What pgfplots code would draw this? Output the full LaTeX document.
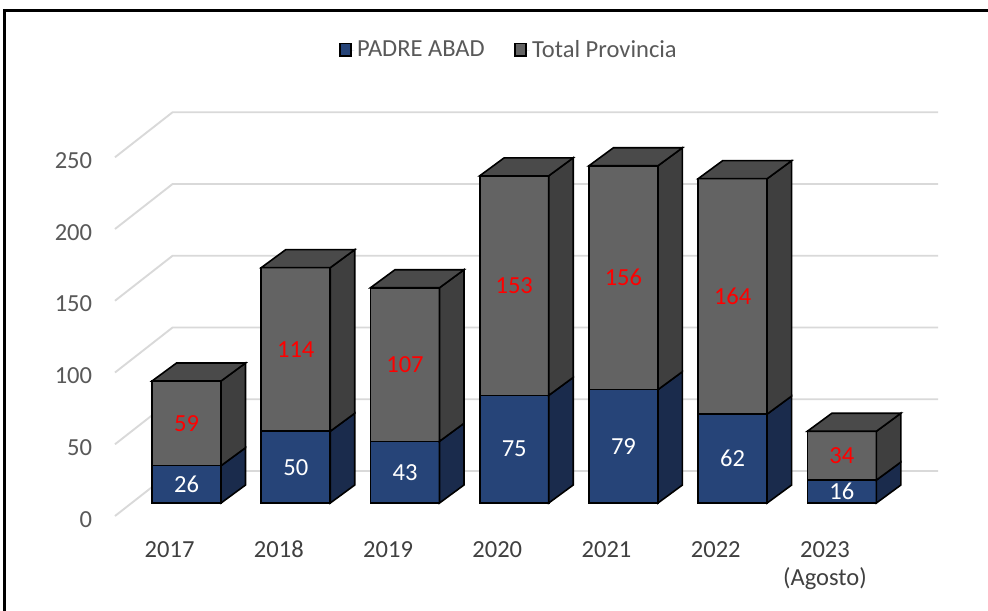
\documentclass[border=0pt]{standalone}
\usepackage{fontspec}
\setmainfont{Carlito}
\usepackage{pgfplots}
\pgfplotsset{compat=1.18}
\definecolor{padre}{HTML}{264478}
\definecolor{padreside}{HTML}{1A2B4C}
\definecolor{totf}{HTML}{636363}
\definecolor{tots}{HTML}{3F3F3F}
\definecolor{tott}{HTML}{4A4A4A}
\definecolor{gridc}{HTML}{D9D9D9}
\definecolor{tickc}{HTML}{595959}
\definecolor{catc}{HTML}{404040}
\newcommand\chfont{\fontsize{18.4}{21}\selectfont}
% #1 category position, #2 PADRE ABAD, #3 Total Provincia
\newcommand\threedbar[3]{%
 \pgfmathsetmacro\xl{#1-0.316}%
 \pgfmathsetmacro\xr{#1+0.316}%
 \pgfmathsetmacro\xlb{#1-0.316+0.224}%
 \pgfmathsetmacro\xrb{#1+0.316+0.224}%
 \pgfmathsetmacro\ya{#2}%
 \pgfmathsetmacro\yb{#2+#3}%
 \pgfmathsetmacro\yzb{12.54}%
 \pgfmathsetmacro\yab{#2+12.54}%
 \pgfmathsetmacro\ybb{#2+#3+12.54}%
 \addplot[forget plot, fill=padre, draw=black, line width=1.2pt] coordinates {(\xl,0) (\xr,0) (\xr,\ya) (\xl,\ya)} -- cycle;
 \addplot[forget plot, fill=totf, draw=black, line width=1.2pt] coordinates {(\xl,\ya) (\xr,\ya) (\xr,\yb) (\xl,\yb)} -- cycle;
 \addplot[forget plot, fill=padreside, draw=black, line width=1.2pt] coordinates {(\xr,0) (\xrb,\yzb) (\xrb,\yab) (\xr,\ya)} -- cycle;
 \addplot[forget plot, fill=tots, draw=black, line width=1.2pt] coordinates {(\xr,\ya) (\xrb,\yab) (\xrb,\ybb) (\xr,\yb)} -- cycle;
 \addplot[forget plot, fill=tott, draw=black, line width=1.2pt] coordinates {(\xl,\yb) (\xlb,\ybb) (\xrb,\ybb) (\xr,\yb)} -- cycle;
}
\begin{document}
\begin{tikzpicture}
\useasboundingbox[fill=white] (0,0) rectangle (741pt,-457.5pt);
\draw[line width=2.3pt] (3.3pt,-470pt) -- (3.3pt,-7.7pt) -- (750pt,-7.7pt);
\begin{axis}[
  at={(86.25pt,-387pt)}, anchor=south west,
  scale only axis, width=617.25pt, height=332.625pt,
  xmin=-0.655, xmax=6.88, ymin=-9.06, ymax=300,
  clip=false,
  axis line style={draw=none},
  major tick length=0pt,
  ytick={-9.06,40.94,90.94,140.94,190.94,240.94},
  yticklabels={0,50,100,150,200,250},
  yticklabel style={font=\chfont, text=tickc, anchor=east, inner sep=0pt, xshift=-17pt, yshift=-2.5pt},
  xtick={-0.155,0.845,1.845,2.845,3.845,4.845,5.845},
  xticklabels={\strut 2017,\strut 2018,\strut 2019,\strut 2020,\strut 2021,\strut 2022,{\strut 2023\\(Agosto)}},
  xticklabel style={font=\chfont, text=catc, align=center, anchor=north, yshift=-13pt},
  legend style={at={(0.479,1.0507)}, anchor=center, draw=none, fill=none,
    font=\chfont, text=tickc, /tikz/every even column/.append style={column sep=20pt}},
  legend columns=2,
  legend image code/.code={\path[draw=none] (0pt,0pt) -- (11pt,0pt);\draw[#1, line width=1.2pt] (0pt,-4.7pt) rectangle (8.5pt,5pt);},
]
\addlegendimage{fill=padre, draw=black}
\addlegendentry{PADRE ABAD}
\addlegendimage{fill=totf, draw=black}
\addlegendentry{Total Provincia}
% gridlines: front wall, side wall, back wall
\addplot[forget plot, gridc, line width=1.4pt] coordinates {(-0.655,-9.06) (-0.128,22.3) (6.88,22.3)};
\addplot[forget plot, gridc, line width=1.4pt] coordinates {(-0.655,40.94) (-0.128,72.3) (6.88,72.3)};
\addplot[forget plot, gridc, line width=1.4pt] coordinates {(-0.655,90.94) (-0.128,122.3) (6.88,122.3)};
\addplot[forget plot, gridc, line width=1.4pt] coordinates {(-0.655,140.94) (-0.128,172.3) (6.88,172.3)};
\addplot[forget plot, gridc, line width=1.4pt] coordinates {(-0.655,190.94) (-0.128,222.3) (6.88,222.3)};
\addplot[forget plot, gridc, line width=1.4pt] coordinates {(-0.655,240.94) (-0.128,272.3) (6.88,272.3)};
% bars
\threedbar{0}{26}{59}
\threedbar{1}{50}{114}
\threedbar{2}{43}{107}
\threedbar{3}{75}{153}
\threedbar{4}{79}{156}
\threedbar{5}{62}{164}
\threedbar{6}{16}{34}
% data labels
\addplot[forget plot, only marks, mark size=0pt, mark options={draw=none,fill=none},
  point meta=explicit symbolic, nodes near coords,
  every node near coord/.append style={anchor=center, text=white, font=\chfont}]
  coordinates {(0,13)[26] (1,25)[50] (2,21.5)[43] (3,37.5)[75] (4,39.5)[79] (5,31)[62] (6,8)[16]};
\addplot[forget plot, only marks, mark size=0pt, mark options={draw=none,fill=none},
  point meta=explicit symbolic, nodes near coords,
  every node near coord/.append style={anchor=center, text=red, font=\chfont}]
  coordinates {(0,55.5)[59] (1,107)[114] (2,96.5)[107] (3,151.5)[153] (4,157)[156] (5,144)[164] (6,33)[34]};
\end{axis}
\end{tikzpicture}
\end{document}
